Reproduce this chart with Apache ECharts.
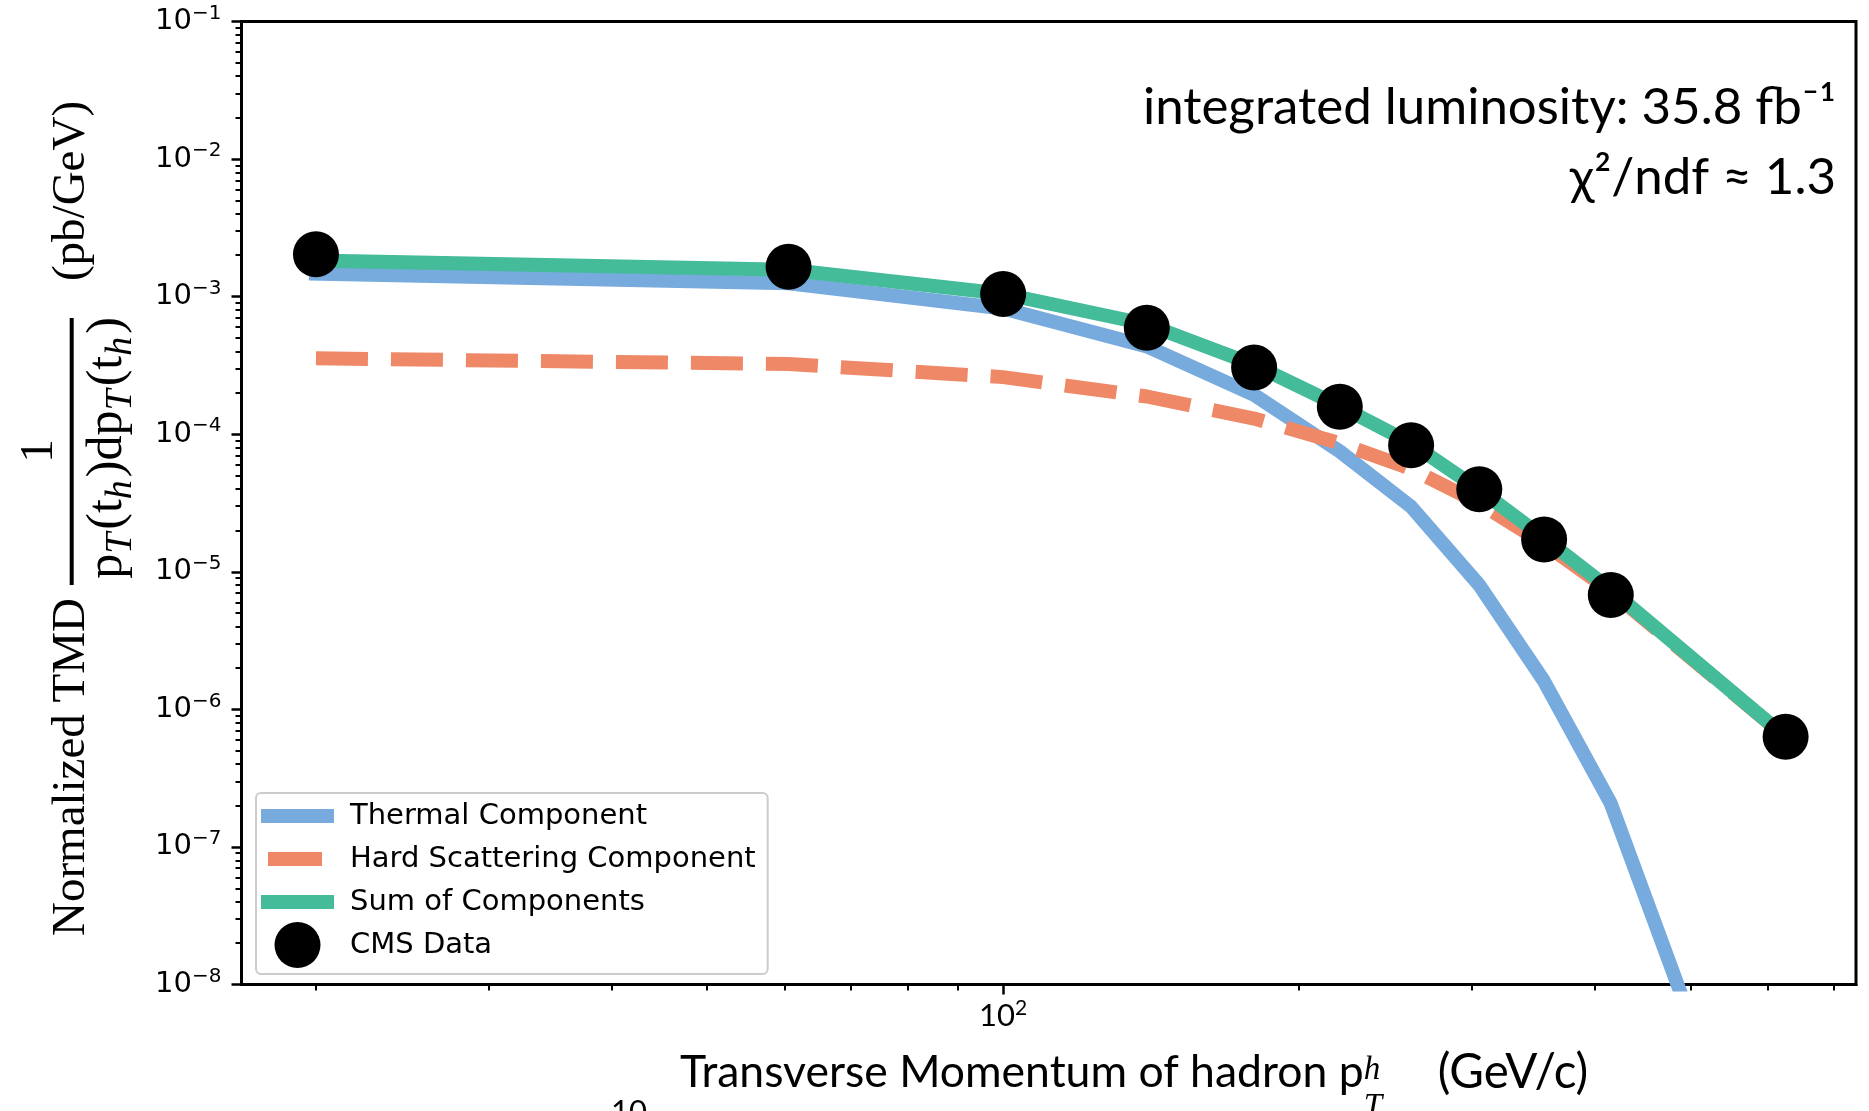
<!DOCTYPE html>
<html>
<head>
<meta charset="utf-8">
<script src="https://cdn.jsdelivr.net/npm/echarts@6/dist/echarts.min.js"></script>
<style>
  html, body { margin: 0; padding: 0; background: #ffffff; }
  #chart { width: 1869px; height: 1111px; }
</style>
</head>
<body>
<div id="chart"></div>
<script>
// pT(t_h) bin centres (GeV/c)
const ptBins = [20, 60.5, 100, 140, 180, 220, 260, 305, 355, 415, 625];
// CMS measurement, normalised differential cross section (pb/GeV)
const cmsData = [2.03e-3, 1.65e-3, 1.045e-3, 5.94e-4, 3.06e-4, 1.585e-4, 8.3e-5, 3.98e-5, 1.72e-5, 6.78e-6, 6.32e-7];
// model components evaluated at the bin centres
const thermalComponent = [1.47e-3, 1.25e-3, 8.2e-4, 4.35e-4, 1.93e-4, 7.5e-5, 2.97e-5, 8.0e-6, 1.6e-6, 2.07e-7, 7.4e-11];
const hardComponent = [3.56e-4, 3.24e-4, 2.6e-4, 1.88e-4, 1.3e-4, 8.6e-5, 5.6e-5, 3.15e-5, 1.6e-5, 7.2e-6, 6.3e-7];
const sumComponents = [1.83e-3, 1.57e-3, 1.05e-3, 6.3e-4, 3.2e-4, 1.6e-4, 8.6e-5, 3.95e-5, 1.76e-5, 7.4e-6, 6.3e-7];

const seriesNames = ['Thermal Component', 'Hard Scattering Component', 'Sum of Components', 'CMS Data'];

// axis ticks
const xLabelTicks = [100];
const xMinorTicks = [20, 30, 40, 50, 60, 70, 80, 90, 200, 300, 400, 500, 600, 700];
const yDecades = [1e-8, 1e-7, 1e-6, 1e-5, 1e-4, 1e-3, 1e-2, 1e-1];
const yMinorTicks = [];
for (let e = -8; e < -1; e++) {
  for (let k = 2; k <= 9; k++) yMinorTicks.push(k * Math.pow(10, e));
}

const BLUE = '#77AADD', ORANGE = '#EE8866', GREEN = '#44BB99';
const SANS = "'DejaVu Sans', sans-serif";
const LABEL_FONT = "Lato, 'Liberation Sans', sans-serif";
const SERIF = "'Liberation Serif', 'DejaVu Serif', serif";

const pairs = (xs, ys) => xs.map((x, i) => [x, ys[i]]);
const supMinus = (v) => {
  const e = Math.round(Math.log10(v));
  return '{b|10}{s|' + (e < 0 ? '\u2212' + (-e) : e) + '}';
};

const xRange = { min: 16.8, max: 737 };
const yRange = { min: 1e-8, max: 1e-1 };

const chart = echarts.init(document.getElementById('chart'), null, { renderer: 'canvas' });

const xLabelMain = 'Transverse Momentum of hadron p';
const xLabelX = 680, xLabelY = 1073, xLabelSize = 44.5;

const option = {
  animation: false,
  backgroundColor: '#ffffff',
  grid: {
    left: 241.5, top: 21.5, width: 1614.5, height: 963,
    containLabel: false, outerBoundsMode: 'none',
    show: true, borderColor: '#000', borderWidth: 3, backgroundColor: 'transparent'
  },
  xAxis: [
    {
      type: 'log', logBase: 10, min: xRange.min, max: xRange.max, position: 'bottom',
      axisLine: { show: true, onZero: false, lineStyle: { color: '#000', width: 3 } },
      axisTick: { show: true, customValues: xLabelTicks, length: 10, lineStyle: { color: '#000', width: 2.5 } },
      axisLabel: {
        show: true, customValues: xLabelTicks, margin: 13, color: '#000',
        formatter: (v) => '{b|10}{s|' + Math.round(Math.log10(v)) + '}',
        rich: {
          b: { fontFamily: LABEL_FONT, fontSize: 31, lineHeight: 36, color: '#000' },
          s: { fontFamily: LABEL_FONT, fontSize: 21, lineHeight: 21, verticalAlign: 'top', color: '#000' }
        }
      },
      splitLine: { show: false }, minorTick: { show: false }
    },
    {
      type: 'log', logBase: 10, min: xRange.min, max: xRange.max, position: 'bottom',
      axisLine: { show: false, onZero: false },
      axisTick: { show: true, customValues: xMinorTicks, length: 6, lineStyle: { color: '#000', width: 2 } },
      axisLabel: { show: false }, splitLine: { show: false }
    }
  ],
  yAxis: [
    {
      type: 'log', logBase: 10, min: yRange.min, max: yRange.max, position: 'left',
      axisLine: { show: true, onZero: false, lineStyle: { color: '#000', width: 3 } },
      axisTick: { show: true, customValues: yDecades, length: 10, lineStyle: { color: '#000', width: 2.5 } },
      axisLabel: {
        show: true, customValues: yDecades, margin: 20, color: '#000',
        formatter: supMinus,
        rich: {
          b: { fontFamily: SANS, fontSize: 29, lineHeight: 36, color: '#000' },
          s: { fontFamily: SANS, fontSize: 20, lineHeight: 20, verticalAlign: 'top', color: '#000' }
        }
      },
      splitLine: { show: false }
    },
    {
      type: 'log', logBase: 10, min: yRange.min, max: yRange.max, position: 'left',
      axisLine: { show: false, onZero: false },
      axisTick: { show: true, customValues: yMinorTicks, length: 6, lineStyle: { color: '#000', width: 2 } },
      axisLabel: { show: false }, splitLine: { show: false }
    }
  ],
  legend: {
    show: true, orient: 'vertical', left: 256, top: 793,
    padding: [0, 12, 6, 5], itemWidth: 73, itemHeight: 46, itemGap: -3,
    backgroundColor: 'rgba(255,255,255,0.8)', borderColor: '#cccccc', borderWidth: 2, borderRadius: 5,
    selectedMode: false,
    itemStyle: { borderWidth: 0, opacity: 1 },
    textStyle: { fontFamily: SANS, fontSize: 29, color: '#000', padding: [0, 0, 0, 11] },
    data: [
      { name: seriesNames[0], icon: 'path://M0,0 M73,46 M0,16h73v14h-73z', itemStyle: { color: BLUE, opacity: 1 } },
      { name: seriesNames[1], icon: 'path://M0,0 M73,46 M7,16h54v14h-54z', itemStyle: { color: ORANGE, opacity: 1 } },
      { name: seriesNames[2], icon: 'path://M0,0 M73,46 M0,16h73v14h-73z', itemStyle: { color: GREEN, opacity: 1 } },
      { name: seriesNames[3], icon: 'circle', itemStyle: { color: '#000', opacity: 1 } }
    ]
  },
  series: [
    {
      name: seriesNames[0], type: 'line', xAxisIndex: 0, yAxisIndex: 0,
      data: pairs(ptBins, thermalComponent), symbol: 'none', clip: true, silent: true, z: 2,
      color: BLUE, lineStyle: { color: BLUE, width: 14, cap: 'square', join: 'round' }
    },
    {
      name: seriesNames[1], type: 'line', xAxisIndex: 0, yAxisIndex: 0,
      data: pairs(ptBins, hardComponent), symbol: 'none', clip: true, silent: true, z: 3,
      color: ORANGE, lineStyle: { color: ORANGE, width: 14, type: [52, 23], cap: 'butt', join: 'round' }
    },
    {
      name: seriesNames[2], type: 'line', xAxisIndex: 0, yAxisIndex: 0,
      data: pairs(ptBins, sumComponents), symbol: 'none', clip: true, silent: true, z: 4,
      color: GREEN, lineStyle: { color: GREEN, width: 14, cap: 'square', join: 'round' }
    },
    {
      name: seriesNames[3], type: 'scatter', xAxisIndex: 0, yAxisIndex: 0,
      data: pairs(ptBins, cmsData), symbol: 'circle', symbolSize: 46, silent: true, z: 5,
      color: '#000', itemStyle: { color: '#000', opacity: 1 }
    }
  ],
  graphic: [
    // fit annotations, upper right
    {
      type: 'text', x: 1836, y: 108, silent: true,
      style: { text: 'integrated luminosity: 35.8 fb\u207B\u00B9', fontFamily: LABEL_FONT, fontSize: 51,
        fill: '#000', align: 'right', verticalAlign: 'middle' }
    },
    {
      type: 'text', x: 1836, y: 178, silent: true,
      style: { text: '\u03C7\u00B2/ndf \u2248 1.3', fontFamily: LABEL_FONT, fontSize: 51,
        fill: '#000', align: 'right', verticalAlign: 'middle' }
    },
    // y-axis title (rotated)
    {
      type: 'text', x: 72, y: 767, rotation: Math.PI / 2, silent: true,
      style: { text: 'Normalized TMD', fontFamily: SERIF, fontSize: 47, fill: '#000', align: 'center', verticalAlign: 'middle' }
    },
    {
      type: 'text', x: 72, y: 191, rotation: Math.PI / 2, silent: true,
      style: { text: '(pb/GeV)', fontFamily: SERIF, fontSize: 47, fill: '#000', align: 'center', verticalAlign: 'middle' }
    },
    {
      type: 'text', x: 40, y: 451, rotation: Math.PI / 2, silent: true,
      style: { text: '1', fontFamily: SERIF, fontSize: 47, fill: '#000', align: 'center', verticalAlign: 'middle' }
    },
    {
      type: 'line', silent: true,
      shape: { x1: 71.7, y1: 318, x2: 71.7, y2: 585 },
      style: { stroke: '#000', lineWidth: 4 }
    },
    {
      type: 'text', x: 108, y: 448, rotation: Math.PI / 2, silent: true,
      style: {
        text: '{r|p}{s|T}{r|(t}{s|h}{r|)dp}{s|T}{r|(t}{s|h}{r|)}',
        align: 'center', verticalAlign: 'middle', fill: '#000',
        rich: {
          r: { fontFamily: SERIF, fontSize: 50, lineHeight: 50, fill: '#000' },
          s: { fontFamily: SERIF, fontStyle: 'italic', fontSize: 38, lineHeight: 38, padding: [26, 3, 0, 0], fill: '#000' }
        }
      }
    },
    // x-axis title: main line, then the stacked super/subscripts on p
    {
      type: 'text', x: xLabelX, y: xLabelY, silent: true,
      style: {
        text: '{m|' + xLabelMain + '}{g| }{u|(GeV/c)}', align: 'left', verticalAlign: 'middle',
        rich: {
          m: { fontFamily: LABEL_FONT, fontSize: xLabelSize, fill: '#000' },
          g: { fontFamily: LABEL_FONT, fontSize: xLabelSize, width: 74 },
          u: { fontFamily: LABEL_FONT, fontSize: 47.5, fill: '#000' }
        }
      }
    },
    {
      type: 'text', x: xLabelX, y: xLabelY - 3, silent: true,
      style: {
        text: '{m|' + xLabelMain + '}{h|h}', align: 'left', verticalAlign: 'middle',
        rich: {
          m: { fontFamily: LABEL_FONT, fontSize: xLabelSize, fill: 'rgba(0,0,0,0)' },
          h: { fontFamily: SERIF, fontStyle: 'italic', fontSize: 33, fill: '#000' }
        }
      }
    },
    {
      type: 'text', x: xLabelX, y: xLabelY + 34, silent: true,
      style: {
        text: '{m|' + xLabelMain + '}{t|T}', align: 'left', verticalAlign: 'middle',
        rich: {
          m: { fontFamily: LABEL_FONT, fontSize: xLabelSize, fill: 'rgba(0,0,0,0)' },
          t: { fontFamily: SERIF, fontStyle: 'italic', fontSize: 33, fill: '#000' }
        }
      }
    },
    // stray tick label clipped by the lower edge
    {
      type: 'text', x: 629, y: 1112, silent: true,
      style: { text: '10', fontFamily: LABEL_FONT, fontSize: 31, fill: '#000', align: 'center', verticalAlign: 'middle' }
    }
  ]
};

chart.setOption(option);
</script>
</body>
</html>
